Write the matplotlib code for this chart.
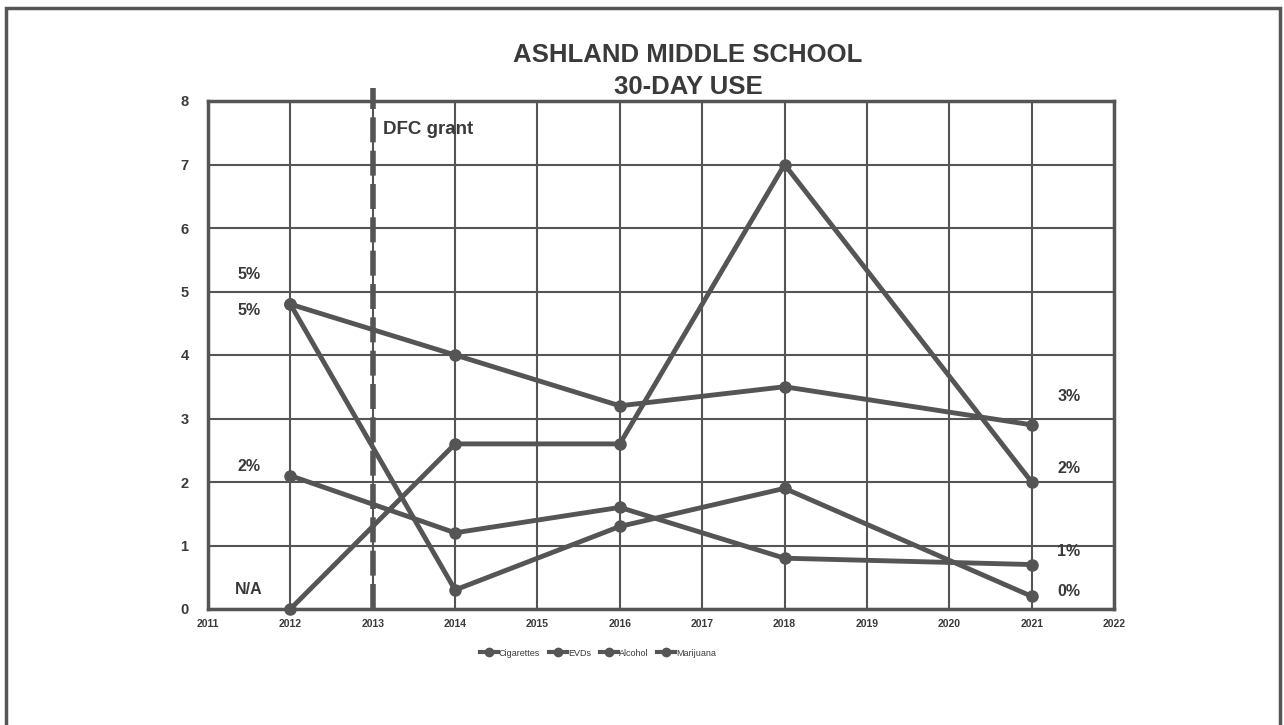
import matplotlib.pyplot as plt
from matplotlib.lines import Line2D
from matplotlib.patches import Rectangle

# data
years = [2012, 2014, 2016, 2018, 2021]
cigarettes = [2.1, 1.2, 1.6, 0.8, 0.7]
evds = [0.0, 2.6, 2.6, 7.0, 2.0]
alcohol = [4.8, 4.0, 3.2, 3.5, 2.9]
marijuana = [4.8, 0.3, 1.3, 1.9, 0.2]
series_names = ["Cigarettes", "EVDs", "Alcohol", "Marijuana"]
grant_year = 2013

plt.rcParams['font.family'] = ['Liberation Sans', 'DejaVu Sans']

GRAY = '#555555'
TXT = '#3a3a3a'

fig = plt.figure(figsize=(12.84, 7.25), dpi=100)
ax = fig.add_axes([208/1284, 1 - 609/725, (1114 - 208)/1284, (609 - 101)/725])

# outer frame around the whole picture
frame = Rectangle((6/1284, -0.05), (1280 - 6)/1284, 1 - 8/725 + 0.05,
                  transform=fig.transFigure, fill=False, edgecolor=GRAY, lw=2.5)
fig.patches.append(frame)

all_series = [cigarettes, evds, alcohol, marijuana]
for name, vals in zip(series_names, all_series):
    ax.plot(years, vals, color=GRAY, lw=3.5, marker='o', ms=8,
            solid_capstyle='round', label=name, zorder=3, clip_on=False)

# start / end value labels (offset in data units so they don't overlap)
start_off = {"Cigarettes": 0.14, "EVDs": 0.3, "Alcohol": 0.46, "Marijuana": -0.1}
end_off = {"Cigarettes": 0.21, "EVDs": 0.22, "Alcohol": 0.44, "Marijuana": 0.07}
lab_kw = dict(fontsize=11.5, fontweight='bold', color=TXT, ha='center', va='center')
for name, vals in zip(series_names, all_series):
    s = "N/A" if vals[0] == 0 else f"{round(vals[0])}%"
    ax.text(years[0] - 0.5, vals[0] + start_off[name], s, **lab_kw)
    ax.text(years[-1] + 0.45, vals[-1] + end_off[name], f"{round(vals[-1])}%", **lab_kw)

# DFC grant marker
ax.plot([grant_year, grant_year], [0, 8.2], color=GRAY, lw=4, ls=(0, (4.5, 1.5)),
        clip_on=False, zorder=2)
ax.text(grant_year + 0.13, 7.55, "DFC grant", fontsize=13.5, fontweight='bold',
        color=TXT, ha='left', va='center')

ax.set_xlim(2011, 2022)
ax.set_ylim(0, 8)
ax.set_xticks(range(2011, 2023))
ax.set_yticks(range(0, 9))
ax.grid(True, color=GRAY, lw=1.5, zorder=0)
ax.set_axisbelow(True)
for sp in ax.spines.values():
    sp.set_color(GRAY)
    sp.set_linewidth(2.5)
ax.tick_params(length=0, colors=TXT)
ax.tick_params(axis='x', labelsize=7.5, pad=7)
ax.tick_params(axis='y', labelsize=10.5, pad=14)
for t in ax.get_xticklabels() + ax.get_yticklabels():
    t.set_fontweight('bold')

fig.text(688/1284, 1 - 55/725, "ASHLAND MIDDLE SCHOOL", fontsize=18.5,
         fontweight='bold', color=TXT, ha='center', va='center')
fig.text(688/1284, 1 - 87/725, "30-DAY USE", fontsize=18.5,
         fontweight='bold', color=TXT, ha='center', va='center')

handles = [Line2D([], [], color=GRAY, lw=3, marker='o', ms=6) for _ in series_names]
fig.legend(handles, series_names, loc='center', bbox_to_anchor=(598/1284, 1 - 653/725),
           ncol=4, frameon=False, fontsize=6.5, handlelength=2.0, handletextpad=0.1,
           columnspacing=1.0, labelcolor=TXT)

fig.savefig('out.png', dpi=100, facecolor='white')
